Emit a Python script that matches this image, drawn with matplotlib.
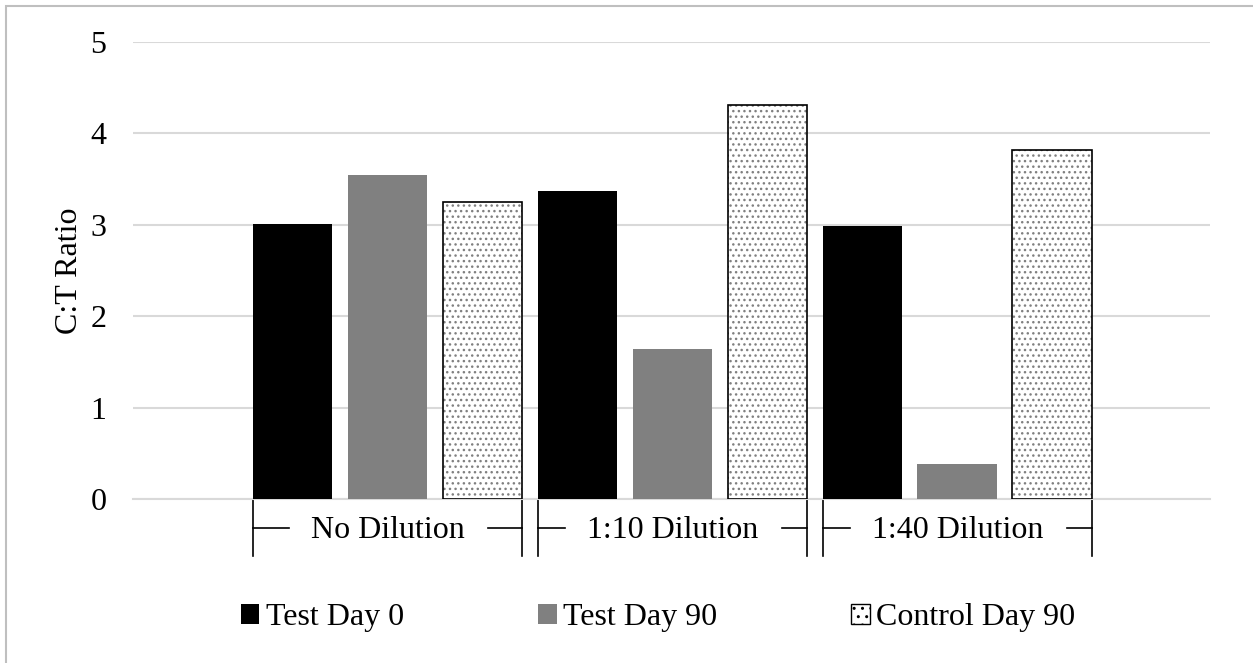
import matplotlib
matplotlib.use("Agg")
import matplotlib.pyplot as plt
import matplotlib.patches as mpatches
import matplotlib.transforms as mtransforms

groups = ["No Dilution", "1:10 Dilution", "1:40 Dilution"]
series = ["Test Day 0", "Test Day 90", "Control Day 90"]
test_day0 = [3.01, 3.37, 2.99]
test_day90 = [3.54, 1.64, 0.38]
control_day90 = [3.25, 4.31, 3.82]
yticks = [0, 1, 2, 3, 4, 5]

plt.rcParams["font.family"] = ["Liberation Serif", "DejaVu Serif"]
plt.rcParams["hatch.linewidth"] = 1.0

FS = 23
W, H = 1253, 663
fig = plt.figure(figsize=(W / 100, H / 100), dpi=100)
ax = fig.add_axes([133 / W, 1 - 499 / H, (1210 - 133) / W, (499 - 42) / H])

width = 0.84
x0 = [3 * g for g in range(3)]
x1 = [3 * g + 1 for g in range(3)]
x2 = [3 * g + 2 for g in range(3)]

b0 = ax.bar(x0, test_day0, width, color="black", zorder=3)
b1 = ax.bar(x1, test_day90, width, color="#808080", zorder=3)
# dotted fill, then a black outline on top
ax.bar(x2, control_day90, width, color="white", edgecolor="#808080",
       hatch="...", linewidth=0, zorder=3)
b2 = ax.bar(x2, control_day90, width, fill=False, edgecolor="black",
            linewidth=1.2, zorder=4)

ax.set_xlim(-1.68, 9.66)
ax.set_ylim(0, 5)
ax.set_yticks(yticks)
ax.tick_params(axis="y", length=0, pad=19, labelsize=FS)
ax.set_xticks([])
ax.grid(axis="y", color="#d9d9d9", linewidth=1.5, zorder=0)
for s in ["top", "right", "left"]:
    ax.spines[s].set_visible(False)
ax.spines["bottom"].set_color("#d9d9d9")
ax.spines["bottom"].set_linewidth(1.5)
ax.set_ylabel("C:T Ratio", fontsize=FS, labelpad=5)

# category brackets under the axis
trans = mtransforms.blended_transform_factory(ax.transData, ax.transAxes)
h_ax = (499 - 42)
y_bot = -(556 - 499) / h_ax
y_mid = -(528 - 499) / h_ax
y_txt = -(531 - 499) / h_ax
labels = []
for g, name in enumerate(groups):
    left = 3 * g - width / 2
    right = 3 * g + 2 + width / 2
    for xv in (left, right):
        ax.plot([xv, xv], [0, y_bot], color="black", lw=1.2, transform=trans, clip_on=False)
    t = ax.text(3 * g + 1, y_txt, name, ha="center", va="center", fontsize=FS,
                transform=trans)
    labels.append((t, left, right))

fig.canvas.draw()
r = fig.canvas.get_renderer()
inv = ax.transData.inverted()
for t, left, right in labels:
    bb = t.get_window_extent(r)
    tl = inv.transform((bb.x0 - 22, 0))[0]
    tr = inv.transform((bb.x1 + 24, 0))[0]
    ax.plot([left, tl], [y_mid, y_mid], color="black", lw=1.2, transform=trans, clip_on=False)
    ax.plot([tr, right], [y_mid, y_mid], color="black", lw=1.2, transform=trans, clip_on=False)

h2 = mpatches.Patch(facecolor="white", edgecolor="black", hatch="..", linewidth=1)
fig.legend([b0, b1, h2], series, loc="center", bbox_to_anchor=(658 / W, 1 - 618 / H),
           ncol=3, frameon=False, fontsize=FS, handlelength=0.58, handleheight=0.58,
           handletextpad=0.2, columnspacing=4.2)

fig.patches.append(mpatches.Rectangle((6 / W, -0.1), 1.2, 1 - 6 / H + 0.1,
                                      transform=fig.transFigure, fill=False,
                                      edgecolor="#bfbfbf", linewidth=1.5))

fig.savefig("out.png", dpi=100)
